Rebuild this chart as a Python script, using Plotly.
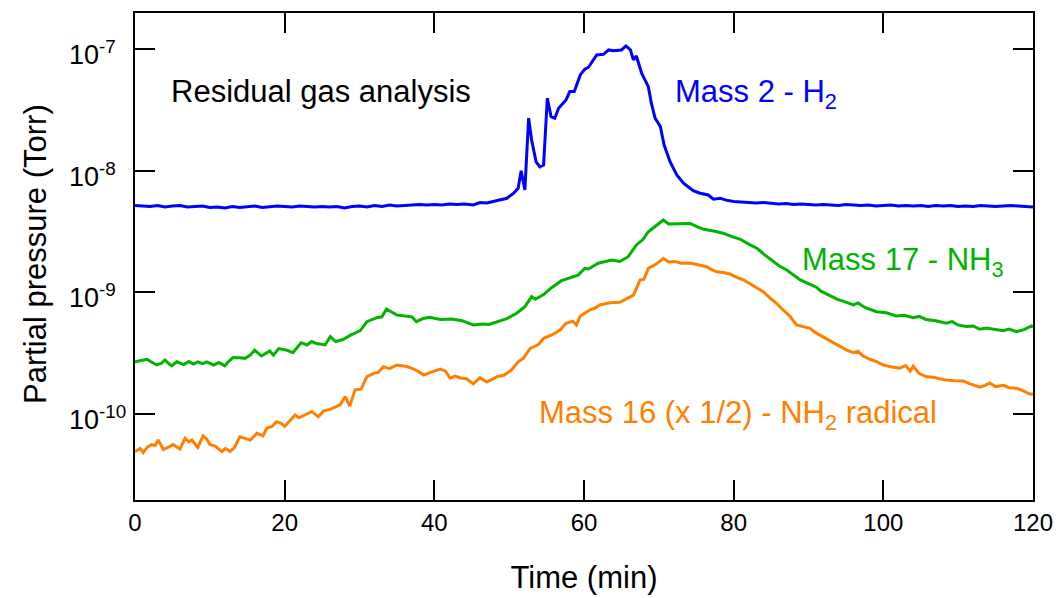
import plotly.graph_objects as go

# Mass 2 (H2) partial pressure, Torr
h2_time = [0, 1, 2, 3, 4, 5, 6, 7, 8, 9, 10, 11, 12, 13, 14, 15, 16, 17, 18, 19,
           20, 21, 22, 23, 24, 25, 26, 27, 28, 29, 30, 31, 32, 33, 34, 35, 36, 37, 38, 39,
           40, 41, 42, 43, 44, 45.2, 46.1, 47.0, 48.3, 49.7, 50.6, 51.2, 51.6, 52.1, 52.6,
           53.0, 53.6, 54.1, 54.6, 55.1, 55.6, 56.1, 56.6, 57.6, 58.1, 58.7, 59.5, 60.1,
           60.6, 61.3, 61.7, 62.6, 63.3, 63.9, 65.0, 65.6, 66.2, 66.6, 67.0, 67.7, 68.6,
           69.0, 69.5, 70.2, 70.7, 71.5, 72.4, 73.3, 74.6, 75.5, 76.6, 77.3, 78.2,
           79, 80, 81, 82, 83, 84, 85, 86, 87, 88, 89, 90, 91, 92, 93, 94, 95, 96, 97, 98,
           99, 100, 101, 102, 103, 104, 105, 106, 107, 108, 109, 110, 111, 112, 113, 114,
           115, 116, 117, 118, 119, 120]
h2_torr = [5.2e-9, 5.15e-9, 5.1e-9, 5.2e-9, 5.05e-9, 5.15e-9, 5.2e-9, 5.05e-9, 5.1e-9, 5.15e-9,
           5.0e-9, 5.05e-9, 4.95e-9, 5.1e-9, 5.0e-9, 5.1e-9, 5.15e-9, 5.0e-9, 5.05e-9, 5.15e-9,
           5.1e-9, 5.05e-9, 5.15e-9, 5.1e-9, 5.05e-9, 5.1e-9, 5.05e-9, 5.1e-9, 4.95e-9, 5.1e-9,
           5.15e-9, 5.05e-9, 5.2e-9, 5.1e-9, 5.25e-9, 5.15e-9, 5.2e-9, 5.25e-9, 5.3e-9, 5.25e-9,
           5.3e-9, 5.25e-9, 5.35e-9, 5.3e-9, 5.35e-9, 5.25e-9, 5.5e-9, 5.45e-9, 5.7e-9, 5.96e-9,
           6.56e-9, 7.21e-9, 1.005e-8, 6.98e-9, 2.72e-8, 1.80e-8, 1.19e-8, 1.08e-8, 1.12e-8,
           3.97e-8, 2.80e-8, 2.72e-8, 3.28e-8, 3.84e-8, 4.50e-8, 4.50e-8, 6.17e-8, 6.87e-8,
           7.14e-8, 8.20e-8, 9.01e-8, 9.12e-8, 9.91e-8, 9.78e-8, 9.91e-8, 1.069e-7, 9.91e-8,
           8.20e-8, 8.84e-8, 6.37e-8, 4.94e-8, 3.61e-8, 2.72e-8, 2.32e-8, 1.64e-8, 1.19e-8,
           9.27e-9, 7.92e-9, 6.89e-9, 6.56e-9, 6.34e-9, 5.85e-9, 5.96e-9,
           5.75e-9, 5.6e-9, 5.55e-9, 5.5e-9, 5.45e-9, 5.5e-9, 5.4e-9, 5.35e-9, 5.4e-9, 5.3e-9,
           5.35e-9, 5.3e-9, 5.25e-9, 5.3e-9, 5.25e-9, 5.2e-9, 5.3e-9, 5.25e-9, 5.2e-9, 5.25e-9,
           5.15e-9, 5.2e-9, 5.25e-9, 5.15e-9, 5.2e-9, 5.15e-9, 5.2e-9, 5.1e-9, 5.2e-9, 5.15e-9,
           5.2e-9, 5.1e-9, 5.15e-9, 5.1e-9, 5.2e-9, 5.15e-9, 5.1e-9, 5.15e-9, 5.2e-9, 5.15e-9,
           5.1e-9, 5.05e-9]

# Mass 17 (NH3) partial pressure, Torr
nh3_time = [0, 0.8, 1.6, 2.3, 2.9, 3.5, 4.0, 4.5, 4.9, 5.6, 6.5, 7.2, 7.8, 8.4, 9.0, 9.6,
            10.5, 11.2, 12.0, 12.5, 13.1, 14.0, 14.7, 15.4, 16.0, 16.9, 18.0, 18.5, 19.2,
            20.3, 21.1, 22.2, 23.0, 23.6, 24.3, 25.4, 26.1, 26.8, 27.8, 28.8, 30.1, 31.0,
            32.3, 33.0, 33.6, 35.0, 36.3, 37.0, 37.6, 38.5, 39.4, 40.8, 42.3, 43.7, 45.2,
            46.5, 47.3, 48.3, 49.0, 49.7, 51.0, 52.1, 53.0, 53.5, 54.6, 55.7, 57.0, 58.2,
            59.2, 60.1, 60.6, 61.9, 63.7, 64.8, 65.9, 67.0, 67.9, 68.6, 69.7, 70.6, 71.3,
            72.8, 74.2, 75.0, 76.0, 77.3, 78.6, 79.8, 80.9, 82.0, 83.1, 84.1, 85.1, 86.1,
            87.1, 88.0, 88.9, 90.0, 91.1, 91.6, 92.4, 93.1, 93.8, 94.8, 96.0, 96.6, 97.6,
            99.1, 100.4, 101.7, 102.8, 104.0, 104.8, 105.7, 107.0, 108.4, 109.2, 110.0,
            111.1, 112.0, 112.9, 113.8, 115.1, 116.0, 116.8, 117.8, 118.8, 119.8, 120]
nh3_torr = [2.69e-10, 2.75e-10, 2.82e-10, 2.65e-10, 2.53e-10, 2.6e-10, 2.78e-10, 2.6e-10,
            2.49e-10, 2.69e-10, 2.55e-10, 2.7e-10, 2.58e-10, 2.68e-10, 2.6e-10, 2.68e-10,
            2.53e-10, 2.65e-10, 2.49e-10, 2.7e-10, 2.92e-10, 2.9e-10, 2.87e-10, 3.05e-10,
            3.36e-10, 3.0e-10, 3.3e-10, 3.05e-10, 3.45e-10, 3.35e-10, 3.2e-10, 3.86e-10,
            3.7e-10, 3.95e-10, 3.8e-10, 3.7e-10, 4.33e-10, 3.95e-10, 4.1e-10, 4.45e-10,
            4.85e-10, 5.75e-10, 6.2e-10, 6.3e-10, 7.31e-10, 6.53e-10, 6.33e-10, 6.3e-10,
            5.75e-10, 6.1e-10, 6.25e-10, 6.0e-10, 6.05e-10, 5.86e-10, 5.4e-10, 5.5e-10,
            5.45e-10, 5.7e-10, 5.9e-10, 6.1e-10, 6.74e-10, 7.64e-10, 9.23e-10, 8.8e-10,
            9.6e-10, 1.10e-9, 1.25e-9, 1.33e-9, 1.39e-9, 1.58e-9, 1.56e-9, 1.74e-9, 1.85e-9,
            1.80e-9, 1.97e-9, 2.46e-9, 2.74e-9, 3.16e-9, 3.59e-9, 3.95e-9, 3.66e-9, 3.66e-9,
            3.70e-9, 3.50e-9, 3.31e-9, 3.20e-9, 3.07e-9, 2.88e-9, 2.74e-9, 2.50e-9, 2.31e-9,
            2.05e-9, 1.85e-9, 1.65e-9, 1.53e-9, 1.40e-9, 1.27e-9, 1.18e-9, 1.10e-9, 1.03e-9,
            9.7e-10, 9.2e-10, 8.8e-10, 8.4e-10, 7.9e-10, 8.2e-10, 7.5e-10, 6.95e-10, 6.8e-10,
            6.41e-10, 6.5e-10, 6.2e-10, 6.35e-10, 6.0e-10, 5.85e-10, 5.58e-10, 5.75e-10,
            5.4e-10, 5.24e-10, 5.3e-10, 4.98e-10, 5.1e-10, 4.95e-10, 4.85e-10, 5.0e-10,
            4.75e-10, 4.95e-10, 5.3e-10, 5.2e-10]

# Mass 16 (NH2 radical, scaled x 1/2) partial pressure, Torr
nh2_time = [0, 0.7, 1.1, 1.6, 2.2, 2.7, 3.1, 3.8, 4.4, 5.1, 6.0, 6.7, 7.2, 7.6, 8.4, 9.1,
            9.6, 10.0, 10.7, 11.6, 12.1, 12.7, 13.3, 14.0, 14.7, 15.4, 16.3, 17.1, 17.6,
            18.3, 18.9, 19.5, 20.0, 20.8, 21.4, 21.9, 22.8, 23.6, 24.5, 25.2, 26.1, 27.4,
            28.1, 28.7, 29.4, 30.2, 31.0, 31.9, 32.5, 33.2, 34.0, 35.0, 36.3, 37.2, 37.9,
            38.6, 39.5, 40.8, 41.5, 42.1, 42.8, 43.5, 44.3, 45.2, 46.1, 47.0, 48.4, 49.3,
            50.3, 51.2, 51.9, 52.8, 53.9, 54.6, 55.7, 56.8, 57.6, 58.5, 59.0, 59.5, 60.8,
            61.4, 62.1, 63.5, 64.8, 65.9, 66.6, 67.5, 68.0, 68.6, 69.7, 70.6, 71.3, 72.2,
            73.0, 74.2, 75.5, 76.4, 77.0, 77.7, 78.6, 79.5, 80.4, 81.3, 82.2, 83.1, 84.0,
            84.9, 85.8, 86.6, 87.5, 88.4, 89.3, 90.2, 91.0, 91.9, 93.0, 94.2, 95.1, 96.0,
            96.6, 97.3, 98.2, 99.1, 100.0, 101.0, 102.2, 103.0, 103.6, 104.0, 104.8, 105.7,
            106.8, 107.5, 108.4, 109.5, 110.7, 111.5, 112.9, 113.6, 114.2, 115.0, 116.1,
            116.8, 117.8, 118.7, 119.6, 120]
nh2_torr = [4.9e-11, 5.2e-11, 4.8e-11, 5.3e-11, 5.6e-11, 5.5e-11, 6.1e-11, 5.1e-11, 5.3e-11,
            5.6e-11, 5.15e-11, 6.31e-11, 5.9e-11, 6.1e-11, 5.3e-11, 6.59e-11, 6.2e-11, 5.6e-11,
            5.45e-11, 4.9e-11, 5.2e-11, 4.9e-11, 5.3e-11, 6.5e-11, 6.3e-11, 6.1e-11, 6.93e-11,
            6.6e-11, 7.62e-11, 7.9e-11, 8.64e-11, 8.4e-11, 7.9e-11, 8.9e-11, 9.8e-11, 9.3e-11,
            9.9e-11, 1.045e-10, 9.5e-11, 1.06e-10, 1.09e-10, 1.19e-10, 1.39e-10, 1.16e-10,
            1.58e-10, 1.60e-10, 2.03e-10, 2.16e-10, 2.20e-10, 2.45e-10, 2.36e-10, 2.53e-10,
            2.46e-10, 2.35e-10, 2.23e-10, 2.09e-10, 2.20e-10, 2.34e-10, 2.25e-10, 1.97e-10,
            2.05e-10, 1.98e-10, 1.95e-10, 1.77e-10, 1.99e-10, 1.83e-10, 2.03e-10, 2.08e-10,
            2.30e-10, 2.69e-10, 2.87e-10, 3.47e-10, 3.73e-10, 4.20e-10, 4.47e-10, 4.91e-10,
            5.58e-10, 5.80e-10, 5.40e-10, 6.41e-10, 7.18e-10, 7.40e-10, 7.89e-10, 8.24e-10,
            8.30e-10, 8.96e-10, 9.50e-10, 1.27e-9, 1.28e-9, 1.58e-9, 1.72e-9, 1.91e-9, 1.78e-9,
            1.80e-9, 1.74e-9, 1.75e-9, 1.68e-9, 1.63e-9, 1.55e-9, 1.48e-9, 1.46e-9, 1.42e-9,
            1.33e-9, 1.27e-9, 1.18e-9, 1.10e-9, 1.01e-9, 8.96e-10, 8.05e-10, 7.18e-10, 6.40e-10,
            5.40e-10, 5.20e-10, 5.07e-10, 4.65e-10, 4.33e-10, 3.95e-10, 3.58e-10, 3.35e-10,
            3.20e-10, 3.28e-10, 3.00e-10, 2.82e-10, 2.70e-10, 2.53e-10, 2.45e-10, 2.38e-10,
            2.50e-10, 2.25e-10, 2.48e-10, 2.15e-10, 2.03e-10, 2.00e-10, 1.95e-10, 1.90e-10,
            1.88e-10, 1.87e-10, 1.78e-10, 1.66e-10, 1.72e-10, 1.80e-10, 1.68e-10, 1.72e-10,
            1.64e-10, 1.63e-10, 1.55e-10, 1.46e-10, 1.45e-10]

x_ticks = [0, 20, 40, 60, 80, 100, 120]
y_ticks = [1e-10, 1e-9, 1e-8, 1e-7]
y_tick_exponents = [-10, -9, -8, -7]

BLUE = "#0000ff"
GREEN = "#00b400"
ORANGE = "#ff8000"
FONT = "Liberation Sans, Arial, sans-serif"

fig = go.Figure()
fig.add_trace(go.Scatter(x=nh2_time, y=nh2_torr, mode="lines",
                         line=dict(color=ORANGE, width=3), name="Mass 16"))
fig.add_trace(go.Scatter(x=nh3_time, y=nh3_torr, mode="lines",
                         line=dict(color=GREEN, width=3), name="Mass 17"))
fig.add_trace(go.Scatter(x=h2_time, y=h2_torr, mode="lines",
                         line=dict(color=BLUE, width=3), name="Mass 2"))

# in-plot labels
labels = [
    dict(text="Residual gas analysis", x=4.6, y=-7.342, color="black"),
    dict(text="Mass 2 - H<sub>2</sub>", x=71.9, y=-7.37, color=BLUE),
    dict(text="Mass 17 - NH<sub>3</sub>", x=88.9, y=-8.75, color=GREEN),
    dict(text="Mass 16 (x 1/2) - NH<sub>2</sub> radical", x=53.7, y=-10.01, color=ORANGE),
]
for a in labels:
    fig.add_annotation(x=a["x"], y=a["y"], xref="x", yref="y", text=a["text"],
                       showarrow=False, xanchor="left", yanchor="middle",
                       font=dict(family=FONT, size=31, color=a["color"]))

# left-aligned power-of-ten labels on the log axis
for v, e in zip(y_ticks, y_tick_exponents):
    fig.add_annotation(x=-0.0757, y=e, xref="paper", yref="y",
                       text=f"10<sup>{e}</sup>", showarrow=False,
                       xanchor="left", yanchor="middle", yshift=-4,
                       font=dict(family=FONT, size=27, color="black"))

# vertical axis title
fig.add_annotation(x=-0.1114, y=0.505, xref="paper", yref="paper",
                   text="Partial pressure (Torr)", textangle=-90, showarrow=False,
                   xanchor="center", yanchor="middle",
                   font=dict(family=FONT, size=31, color="black"))

axis_common = dict(showline=True, linecolor="black", linewidth=2, mirror="ticks",
                   ticks="inside", ticklen=20, tickwidth=2, tickcolor="black",
                   showgrid=False, zeroline=False)

fig.update_xaxes(range=[0, 120], tickvals=x_ticks,
                 tickfont=dict(family=FONT, size=24, color="black"),
                 title=dict(text="Time (min)", font=dict(family=FONT, size=31, color="black"),
                            standoff=32),
                 **axis_common)
fig.update_yaxes(type="log", range=[-10.708, -6.70], tickvals=y_ticks,
                 showticklabels=False, **axis_common)

fig.update_layout(width=1059, height=598, showlegend=False,
                  margin=dict(l=135, r=26, t=13, b=98, autoexpand=False),
                  paper_bgcolor="white", plot_bgcolor="white",
                  font=dict(family=FONT))

fig.write_html("out.html")
